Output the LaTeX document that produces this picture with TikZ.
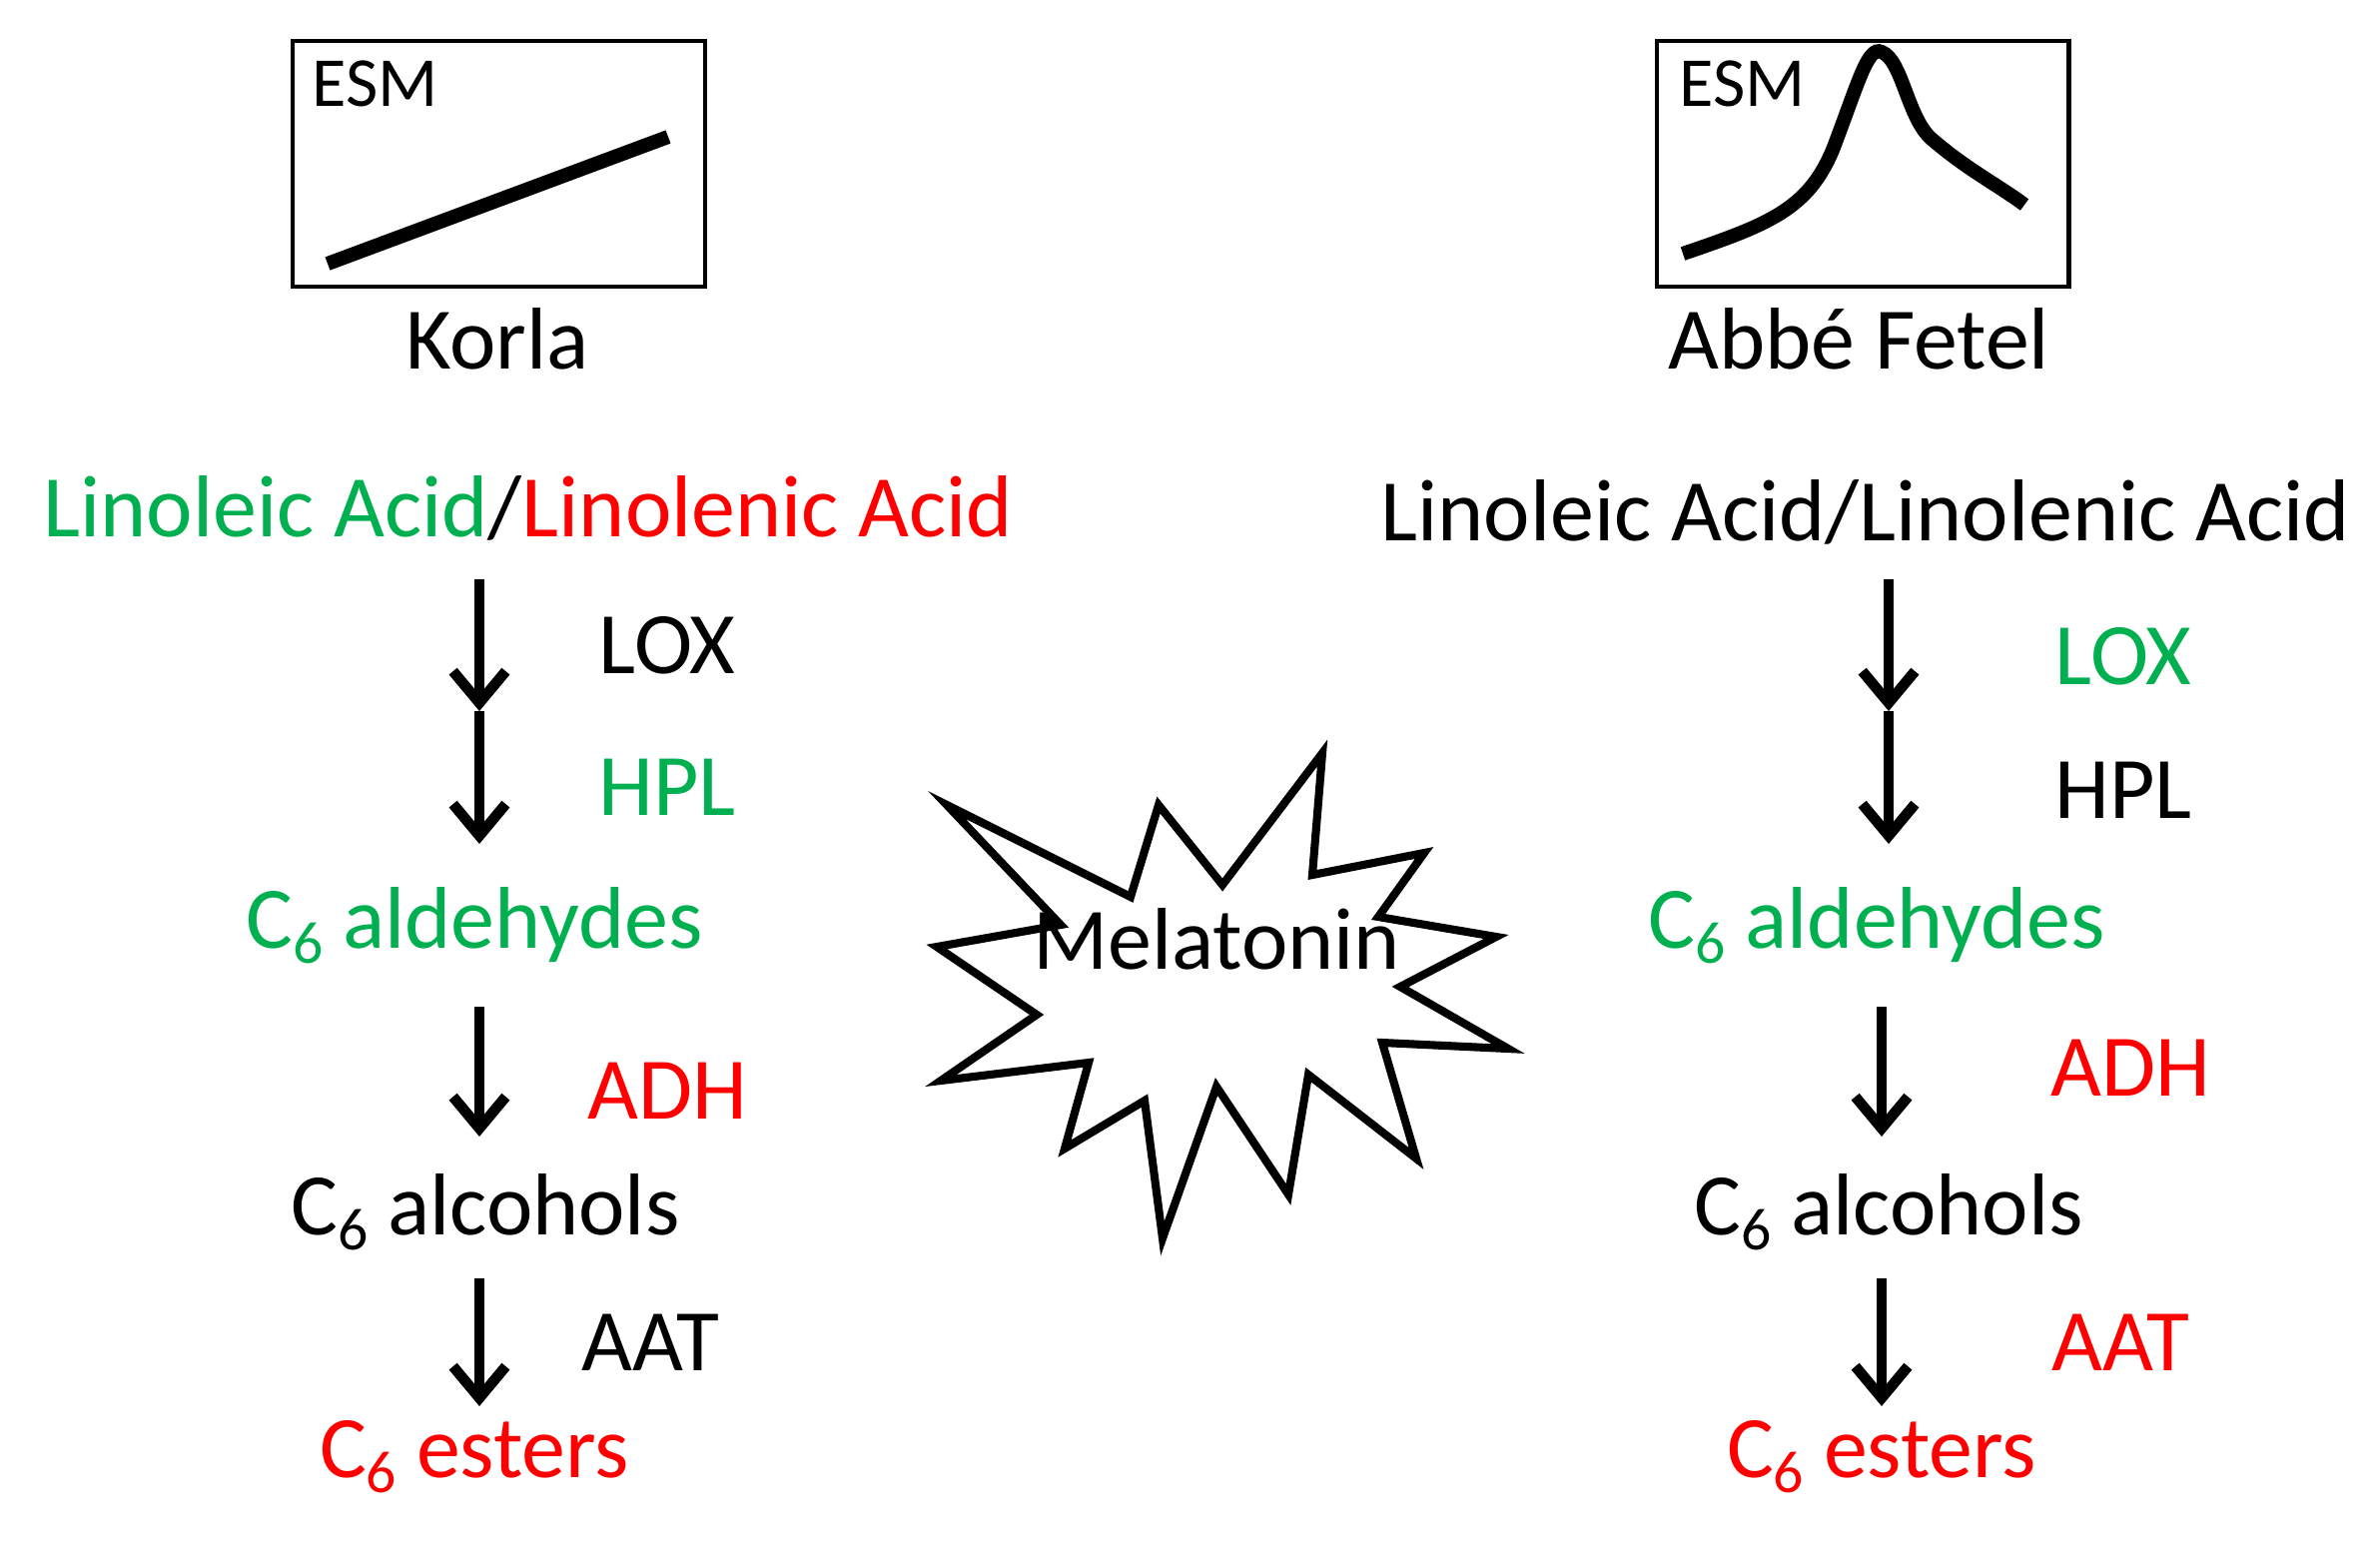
\documentclass[tikz,border=0pt]{standalone}
\usepackage{fontspec}
\setmainfont{Carlito}
\usetikzlibrary{arrows.meta}
\definecolor{gr}{RGB}{0,176,80}
\definecolor{rd}{RGB}{255,0,0}
\newcommand{\sub}[1]{\raisebox{-0.35ex}{\fontsize{17}{17}\selectfont #1}}
\begin{document}
\begin{tikzpicture}[x=0.01cm,y=-0.01cm,
  lab/.style={font=\fontsize{25}{29}\selectfont, inner sep=0pt},
  small/.style={font=\fontsize{20}{24}\selectfont, inner sep=0pt},
  arr/.style={line width=3pt, -{Straight Barb[length=9pt,width=15pt,line width=3pt]}},
  frame/.style={draw, line width=1.4pt}]
\useasboundingbox (0,0) rectangle (2383,1551);
% boxes
\draw[frame] (293,41) rectangle (706,287);
\node[small] (e1) at (376,84) {ESM};
\coordinate (l1) at (328,264); \coordinate (l2) at (669,137);
\draw[line width=4pt] (l1) -- (l2);
\draw[frame] (1659,41) rectangle (2071,287);
\node[small] (e2) at (1745,84) {ESM};
\draw[line width=4pt] (1685,254) .. controls (1770,225) and (1810,210) .. (1835,150)
  .. controls (1860,85) and (1870,45) .. (1884,52)
  .. controls (1905,60) and (1910,120) .. (1935,140)
  .. controls (1970,170) and (2000,185) .. (2027,205);
\node[lab] (korla) at (498,339) {Korla};
\node[lab] (abbe) at (1861,339) {Abbé Fetel};
% left
\node[lab] (la) at (529,509) {\textcolor{gr}{Linoleic Acid}/\textcolor{rd}{Linolenic Acid}};
\coordinate (a0) at (480,580); \coordinate (a1) at (480,712); \coordinate (a2) at (480,845);
\draw[arr] (a0) -- (a1); \draw[arr] (a1) -- (a2);
\node[lab] (lox) at (668,646) {LOX};
\node[lab,text=gr] (hpl) at (668,788) {HPL};
\node[lab,text=gr] (ald) at (475,927) {C\sub{6} aldehydes};
\coordinate (b0) at (480,1008); \coordinate (b1) at (480,1138);
\draw[arr] (b0) -- (b1);
\node[lab,text=rd] (adh) at (668,1092) {ADH};
\node[lab] (alc) at (486,1214) {C\sub{6} alcohols};
\coordinate (c0) at (480,1280); \coordinate (c1) at (480,1408);
\draw[arr] (c0) -- (c1);
\node[lab] (aat) at (651,1344) {AAT};
\node[lab,text=rd] (est) at (475,1459) {C\sub{6} esters};
% right
\node[lab] (ra) at (1868,513) {Linoleic Acid/Linolenic Acid};
\coordinate (d0) at (1891,580); \coordinate (d1) at (1891,712); \coordinate (d2) at (1891,845);
\draw[arr] (d0) -- (d1); \draw[arr] (d1) -- (d2);
\node[lab,text=gr] (rlox) at (2126,657) {LOX};
\node[lab] (rhpl) at (2126,791) {HPL};
\node[lab,text=gr] (rald) at (1879,927) {C\sub{6} aldehydes};
\coordinate (f0) at (1884,1008); \coordinate (f1) at (1884,1138);
\draw[arr] (f0) -- (f1);
\node[lab,text=rd] (radh) at (2133,1069) {ADH};
\node[lab] (ralc) at (1891,1214) {C\sub{6} alcohols};
\coordinate (g0) at (1884,1280); \coordinate (g1) at (1884,1408);
\draw[arr] (g0) -- (g1);
\node[lab,text=rd] (raat) at (2123,1344) {AAT};
\node[lab,text=rd] (rest) at (1884,1459) {C\sub{6} esters};
% star
\draw[line width=2.3pt, line join=miter] (948,806) -- (1132,898) -- (1160,806) -- (1224,886) -- (1324,754) -- (1314,876) -- (1426,854) -- (1380,918) -- (1498,938) -- (1402,988) -- (1510,1050) -- (1384,1044) -- (1418,1160) -- (1310,1076) -- (1290,1196) -- (1218,1088) -- (1164,1240) -- (1146,1102) -- (1066,1150) -- (1090,1064) -- (942,1082) -- (1038,1016) -- (938,948) -- (1062,926) -- cycle;
\node[lab] (mel) at (1218,940) {Melatonin};
\end{tikzpicture}
\end{document}
